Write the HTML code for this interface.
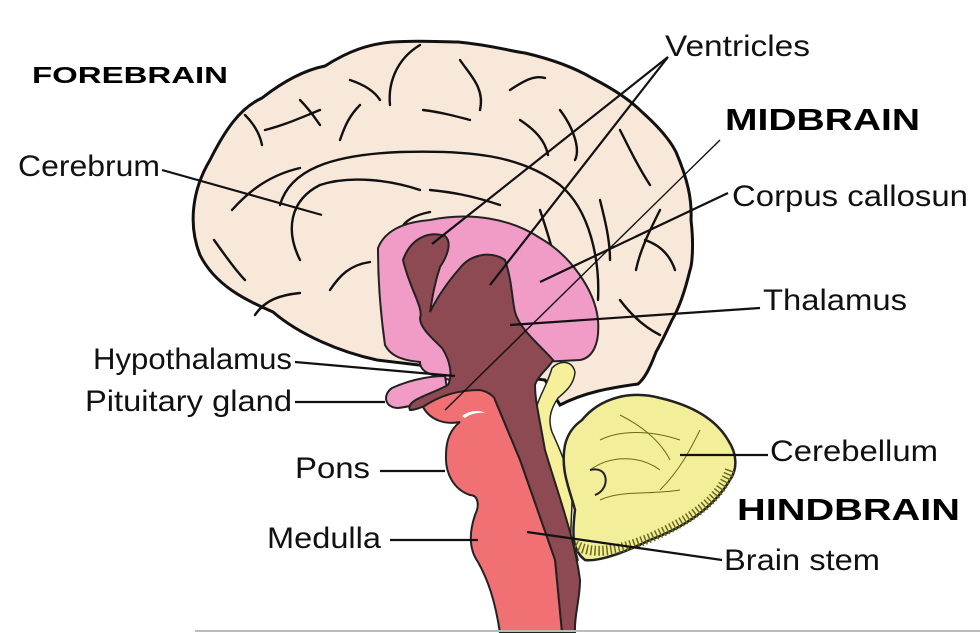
<!DOCTYPE html>
<html><head><meta charset="utf-8"><style>
html,body{margin:0;padding:0;background:#fff;}
svg{display:block;}
.lbl{font-family:"Liberation Sans",Arial,sans-serif;font-size:30px;fill:#111;}
.big{font-family:"Liberation Sans",Arial,sans-serif;font-weight:bold;fill:#000;}
.g{fill:none;stroke:#111;stroke-width:2.4;stroke-linecap:round;}
.c{fill:none;stroke:#6b6a1a;stroke-width:1;}
</style></head><body>
<svg width="980" height="633" viewBox="0 0 980 633">
<g>
<path d="M377,360 C340,352 300,335 273,312 C245,300 215,285 200,255 C188,225 192,190 210,160 C225,130 240,108 262,98 C285,80 305,70 325,66 C350,50 370,44 392,42 C420,40 440,42 458,42 C490,45 505,50 525,53 C555,60 575,68 592,78 C615,90 630,100 642,112 C660,128 670,140 676,152 C688,180 692,200 691,220 C694,245 692,265 690,270 C684,295 678,310 672,320 C665,335 660,345 656,352 C650,368 645,378 638,384 C610,388 585,392 560,405 L545,380 Z" fill="#f8e8da" stroke="#111" stroke-width="3"/>
<path class="g" d="M280,205 C290,170 330,155 400,152 C470,150 520,155 560,185 C590,210 600,260 598,300"/>
<path class="g" d="M300,260 C285,230 290,200 320,185 C350,175 390,180 420,190"/>
<path class="g" d="M232,210 C250,190 270,175 300,168"/>
<path class="g" d="M390,105 C388,85 395,60 420,45"/>
<path class="g" d="M460,60 C470,75 485,88 480,110"/>
<path class="g" d="M423,110 C440,112 455,116 470,120"/>
<path class="g" d="M510,90 C525,80 535,75 545,78"/>
<path class="g" d="M560,110 C575,130 580,150 575,160"/>
<path class="g" d="M245,115 C255,125 260,135 262,145"/>
<path class="g" d="M300,100 C310,110 315,118 320,125"/>
<path class="g" d="M340,140 C345,125 350,115 360,105"/>
<path class="g" d="M620,130 C630,150 640,170 650,185"/>
<path class="g" d="M660,210 C650,230 640,250 636,270"/>
<path class="g" d="M620,300 C635,320 650,330 660,335"/>
<path class="g" d="M214,240 C225,255 235,270 245,280"/>
<path class="g" d="M330,290 C340,275 350,265 370,262"/>
<path class="g" d="M255,315 C265,300 280,295 300,293"/>
<path class="g" d="M430,190 C450,192 470,195 500,205"/>
<path class="g" d="M540,210 C545,225 550,240 555,260"/>
<path class="g" d="M600,200 C605,220 610,240 610,260"/>
<path class="g" d="M400,230 C405,220 415,215 430,212"/>
<path class="g" d="M265,130 C285,125 300,118 320,110"/>
<path class="g" d="M350,80 C365,85 375,92 380,100"/>
<path class="g" d="M520,120 C535,130 545,140 548,155"/>
<path class="g" d="M645,240 C660,245 670,255 675,270"/>
</g>
<g>
<path d="M552,368 C560,360 572,360 575,372 C574,385 565,392 558,398 C550,410 548,420 552,432 C560,450 570,470 572,500 C572,520 568,540 575,560 L578,560 C565,510 545,470 535,420 C535,400 545,392 552,368 Z" fill="#f6f09a" stroke="#222" stroke-width="1.5"/>
</g>
<g>
<path d="M582,420 C600,398 630,390 660,398 C690,405 715,418 728,440 C738,455 737,470 730,480 C715,505 690,525 650,540 C625,552 600,562 585,560 C572,550 572,535 575,510 C570,490 560,470 565,445 C568,432 575,425 582,420 Z" fill="#f2ee9a" stroke="#222" stroke-width="2.5"/>
<path d="M730,470 C720,500 690,520 650,538 C620,550 595,556 575,545" fill="none" stroke="#6b6a1a" stroke-width="10" stroke-dasharray="1.5 2.5"/>
<path class="c" d="M600,440 C620,430 650,430 680,440"/>
<path class="c" d="M590,470 C610,455 640,455 660,470"/>
<path class="c" d="M600,500 C620,490 650,495 680,490"/>
<path class="c" d="M620,415 C640,425 660,440 670,460"/>
<path class="c" d="M700,430 C690,450 680,470 660,490"/>
<path d="M590,470 C610,465 610,490 595,495" fill="none" stroke="#222" stroke-width="2"/>
</g>
<g>
<path d="M378,248 C385,230 405,222 430,220 C470,212 510,218 540,238 C570,255 595,290 598,320 C600,345 592,358 580,360 L540,362 L450,380 C430,375 420,372 420,362 C400,360 390,355 385,345 C380,310 378,280 378,248 Z" fill="#f09cc6" stroke="#222" stroke-width="2"/>
<path d="M445,376 C425,376 405,382 392,388 C382,395 385,408 398,408 C415,406 430,400 448,395 Z" fill="#f09cc6" stroke="#222" stroke-width="2"/>
</g>
<g>
<path d="M403,260 C410,240 427,230 445,236 C452,242 448,255 440,267 C434,285 432,300 430,312 C436,300 445,285 460,268 C470,255 490,250 505,260 C512,280 512,300 515,312 C520,330 540,345 553,360 C550,367 538,375 535,385 C535,400 538,410 545,450 C560,500 575,540 580,580 C580,600 574,615 575,633 L562,633 L555,560 L520,460 L495,400 C480,390 460,390 445,398 C430,403 418,410 410,410 C405,400 430,395 448,385 C453,375 450,360 442,348 C432,338 420,328 420,318 C424,308 410,290 403,260 Z" fill="#8e4a52" stroke="#222" stroke-width="2"/>
</g>
<g>
<path d="M423,407 C440,395 460,390 480,390 C490,392 495,398 495,400 L520,460 L555,560 L562,633 L500,633 C495,600 488,580 478,562 C468,548 470,530 475,515 C480,505 478,495 470,495 C455,490 445,475 446,455 C446,438 452,428 460,422 C445,425 430,420 423,407 Z" fill="#f07074" stroke="#222" stroke-width="2"/>
<path d="M462,416 C470,410 480,410 485,413 C478,412 470,414 465,418 Z" fill="#fff"/>
</g>
<g stroke="#111" stroke-width="2.2" fill="none">
<line x1="162" y1="170" x2="322" y2="215"/>
<line x1="668" y1="57" x2="432" y2="244"/>
<line x1="668" y1="57" x2="490" y2="285"/>
<line x1="728" y1="193" x2="540" y2="282"/>
<line x1="760" y1="308" x2="510" y2="325"/>
<line x1="295" y1="362" x2="455" y2="376"/>
<line x1="295" y1="402" x2="385" y2="402"/>
<line x1="380" y1="471" x2="445" y2="471"/>
<line x1="390" y1="540" x2="478" y2="540"/>
<line x1="768" y1="455" x2="680" y2="455"/>
<line x1="722" y1="560" x2="527" y2="532"/>
<line x1="720" y1="140" x2="445" y2="410" stroke-width="1.4"/>
</g>
<line x1="195" y1="631" x2="980" y2="631" stroke="#bbb" stroke-width="2"/>
<text class="big" x="32" y="83" font-size="23" textLength="196" lengthAdjust="spacingAndGlyphs">FOREBRAIN</text>
<text class="big" x="725" y="130" font-size="31" textLength="195" lengthAdjust="spacingAndGlyphs">MIDBRAIN</text>
<text class="big" x="737" y="520" font-size="31" textLength="223" lengthAdjust="spacingAndGlyphs">HINDBRAIN</text>
<text class="lbl" x="665" y="56" textLength="145" lengthAdjust="spacingAndGlyphs">Ventricles</text>
<text class="lbl" x="18" y="176" textLength="142" lengthAdjust="spacingAndGlyphs">Cerebrum</text>
<text class="lbl" x="732" y="206" textLength="236" lengthAdjust="spacingAndGlyphs">Corpus callosun</text>
<text class="lbl" x="763" y="310" textLength="144" lengthAdjust="spacingAndGlyphs">Thalamus</text>
<text class="lbl" x="93" y="369" textLength="199" lengthAdjust="spacingAndGlyphs">Hypothalamus</text>
<text class="lbl" x="85" y="411" textLength="207" lengthAdjust="spacingAndGlyphs">Pituitary gland</text>
<text class="lbl" x="295" y="478" textLength="75" lengthAdjust="spacingAndGlyphs">Pons</text>
<text class="lbl" x="267" y="548" textLength="114" lengthAdjust="spacingAndGlyphs">Medulla</text>
<text class="lbl" x="770" y="461" textLength="168" lengthAdjust="spacingAndGlyphs">Cerebellum</text>
<text class="lbl" x="724" y="570" textLength="156" lengthAdjust="spacingAndGlyphs">Brain stem</text>
</svg>
</body></html>
